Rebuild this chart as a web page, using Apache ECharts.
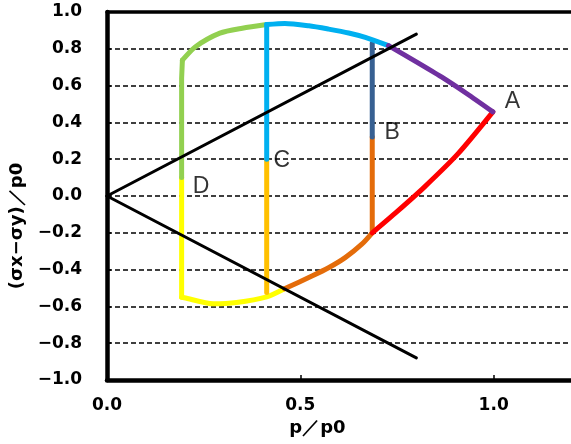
<!DOCTYPE html>
<html><head><meta charset="utf-8">
<script src="https://cdn.jsdelivr.net/npm/echarts@6/dist/echarts.min.js"></script>
<style>html,body{margin:0;padding:0;background:#fff}#c{width:571px;height:444px}</style>
</head><body><div id="c"></div>
<script>
// ---- data ----
const upperX = [0, 0.8];           const upperY = [0, 0.88];
const lowerX = [0, 0.8];           const lowerY = [0, -0.88];
const greenVertX = [0.193, 0.193, 0.195];     const greenVertY = [0.10, 0.64, 0.738];
const greenArcX = [0.195, 0.228, 0.292, 0.35, 0.413];
const greenArcY = [0.738, 0.81, 0.885, 0.912, 0.932];
const blueVertX = [0.413, 0.413];  const blueVertY = [0.2, 0.932];
const blueArcX = [0.413, 0.46, 0.522, 0.573, 0.625, 0.668, 0.728];
const blueArcY = [0.932, 0.938, 0.925, 0.907, 0.886, 0.862, 0.817];
const purpleX = [0.728, 0.80, 0.865, 0.93, 0.998];
const purpleY = [0.817, 0.729, 0.647, 0.557, 0.457];
const navyX = [0.686, 0.686];      const navyY = [0.32, 0.83];
const redX = [0.686, 0.75, 0.82, 0.908, 0.998];
const redY = [-0.2, -0.085, 0.047, 0.23, 0.457];
const orangeArcX = [0.459, 0.53, 0.573, 0.616, 0.659, 0.686];
const orangeArcY = [-0.504, -0.435, -0.39, -0.335, -0.262, -0.2];
const orangeVertX = [0.686, 0.686]; const orangeVertY = [-0.2, 0.32];
const amberX = [0.413, 0.413];     const amberY = [0.2, -0.524];
const yellowVertX = [0.193, 0.193]; const yellowVertY = [0.10, -0.55];
const yellowArcX = [0.193, 0.2, 0.275, 0.335, 0.413, 0.459];
const yellowArcY = [-0.55, -0.553, -0.586, -0.579, -0.548, -0.504];
const pointNames = ['A', 'B', 'C', 'D'];
const pointX = [0.998, 0.686, 0.413, 0.193];
const pointY = [0.457, 0.32, 0.2, 0.10];
const xMin = 0, xMax = 1.2, xStep = 0.5;
const yMin = -1, yMax = 1, yStep = 0.2;
const xName = 'p／p0';
const yName = '(σx−σy)／p0';

// ---- styling ----
const labelOffsets = [[19.5, -10], [20, -4], [15, 1.5], [19.5, 9]];
const pts = (xs, ys) => xs.map((x, i) => [x, ys[i]]);
const fmt = v => v.toFixed(1).replace('-', '−');
const boldFont = { fontFamily: 'DejaVu Sans', fontWeight: 'bold', color: '#000' };

function seg(xs, ys, color, width, z, smooth) {
  return {
    type: 'line', data: pts(xs, ys), showSymbol: false, symbol: 'none',
    smooth: smooth ? 0.25 : false,
    lineStyle: { color: color, width: width, join: 'round', cap: 'round' }, z: z,
    silent: true, animation: false
  };
}

const chart = echarts.init(document.getElementById('c'), null, { renderer: 'canvas' });
chart.setOption({
  animation: false,
  backgroundColor: '#fff',
  grid: { left: 107, width: 467, top: 12, bottom: 64 },
  xAxis: [{
    type: 'value', min: xMin, max: xMax, interval: xStep,
    axisLine: { show: true, onZero: false, lineStyle: { color: '#000', width: 4.5 } },
    axisTick: { show: true, inside: true, length: 5, lineStyle: { color: '#000', width: 1.5 } },
    axisLabel: Object.assign({ fontSize: 17, margin: 17, showMaxLabel: false, formatter: fmt }, boldFont),
    splitLine: { show: false },
    name: xName, nameLocation: 'middle', nameGap: 34,
    nameTextStyle: Object.assign({ fontSize: 18, padding: [0, 43, 0, 0] }, boldFont)
  }, {
    type: 'value', position: 'top', min: xMin, max: xMax, interval: xStep,
    axisLine: { show: true, onZero: false, lineStyle: { color: '#000', width: 3.5 } },
    axisTick: { show: false }, axisLabel: { show: false }, splitLine: { show: false }
  }],
  yAxis: {
    type: 'value', min: yMin, max: yMax, interval: yStep,
    axisLine: { show: true, onZero: false, lineStyle: { color: '#000', width: 4.5 } },
    axisTick: { show: true, inside: true, length: 4, lineStyle: { color: '#000', width: 1.5 } },
    axisLabel: Object.assign({ fontSize: 17, margin: 25, formatter: fmt }, boldFont),
    splitLine: { show: true, lineStyle: { color: '#000', width: 1.5, type: [5, 3] } },
    name: yName, nameLocation: 'middle', nameGap: 72, nameRotate: 90,
    nameTextStyle: Object.assign({ fontSize: 18, padding: [0, 60, 0, 0] }, boldFont)
  },
  series: [
    seg(yellowVertX, yellowVertY, '#FFFF00', 5, 2, false),
    seg(yellowArcX, yellowArcY, '#FFFF00', 5, 2, true),
    seg(amberX, amberY, '#FFC000', 5, 2, false),
    seg(orangeArcX, orangeArcY, '#E46C0A', 5, 2, true),
    seg(orangeVertX, orangeVertY, '#E46C0A', 5, 2, false),
    seg(redX, redY, '#FF0000', 5, 3, true),
    seg(navyX, navyY, '#376092', 5, 2, false),
    seg(greenVertX, greenVertY, '#92D050', 5, 2, false),
    seg(greenArcX, greenArcY, '#92D050', 5, 2, true),
    seg(blueVertX, blueVertY, '#00B0F0', 5, 3, false),
    seg(blueArcX, blueArcY, '#00B0F0', 5, 3, true),
    seg(purpleX, purpleY, '#7030A0', 5, 3, true),
    seg(upperX, upperY, '#000', 3, 4, false),
    seg(lowerX, lowerY, '#000', 3, 4, false),
    {
      type: 'scatter', z: 5, silent: true, symbolSize: 2,
      itemStyle: { color: 'rgba(0,0,0,0)' },
      data: pointNames.map((n, i) => ({
        value: [pointX[i], pointY[i]], name: n,
        label: { show: true, position: 'inside', offset: labelOffsets[i], formatter: n,
                 fontFamily: 'Liberation Sans', fontSize: 23, color: '#000' }
      }))
    }
  ]
});
</script>
</body></html>
